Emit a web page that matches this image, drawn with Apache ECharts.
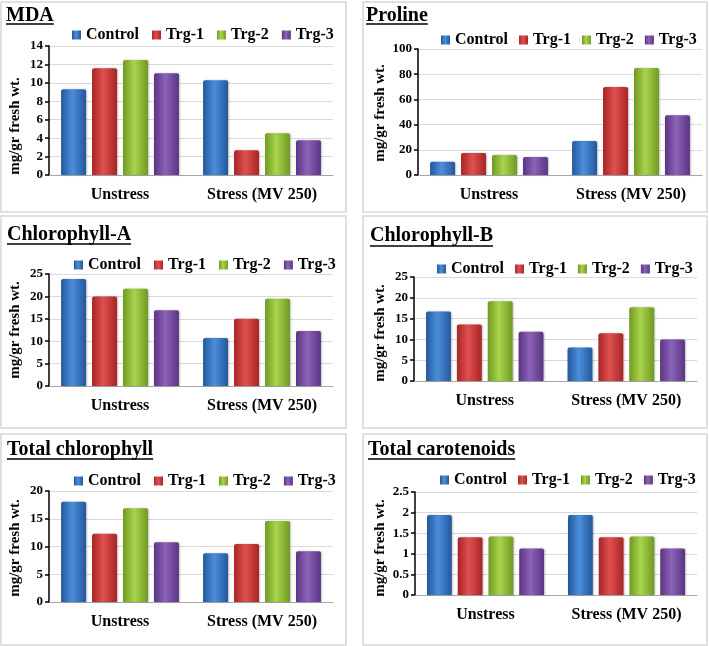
<!DOCTYPE html>
<html><head><meta charset="utf-8">
<script src="https://cdn.jsdelivr.net/npm/echarts@6/dist/echarts.min.js"></script>
<style>html,body{margin:0;padding:0;background:#fff}#c{width:709px;height:646px}</style>
</head><body><div id="c"></div>
<script>
var categories = ['Unstress', 'Stress (MV 250)'];
var groups = ['Control', 'Trg-1', 'Trg-2', 'Trg-3'];
var titles = ['MDA', 'Proline', 'Chlorophyll-A', 'Chlorophyll-B', 'Total chlorophyll', 'Total carotenoids'];
var yName = 'mg/gr fresh wt.';
// values per panel: [Unstress, Stress] for each group
var mdaControl = [9.3, 10.27], mdaTrg1 = [11.58, 2.68], mdaTrg2 = [12.48, 4.52], mdaTrg3 = [11.03, 3.76];
var proControl = [10.6, 27.0], proTrg1 = [17.5, 69.8], proTrg2 = [15.9, 84.9], proTrg3 = [14.3, 47.5];
var chaControl = [23.9, 10.7], chaTrg1 = [20.0, 15.0], chaTrg2 = [21.7, 19.5], chaTrg3 = [16.9, 12.3];
var chbControl = [16.7, 8.06], chbTrg1 = [13.6, 11.5], chbTrg2 = [19.2, 17.7], chbTrg3 = [11.85, 10.0];
var tchControl = [18.08, 8.77], tchTrg1 = [12.3, 10.45], tchTrg2 = [16.9, 14.6], tchTrg3 = [10.75, 9.13];
var carControl = [1.94, 1.94], carTrg1 = [1.40, 1.40], carTrg2 = [1.42, 1.42], carTrg3 = [1.13, 1.13];
var yMax = [14, 100, 25, 25, 20, 2.5];
var yInterval = [2, 20, 5, 5, 5, 0.5];

var panelData = [
  [mdaControl, mdaTrg1, mdaTrg2, mdaTrg3],
  [proControl, proTrg1, proTrg2, proTrg3],
  [chaControl, chaTrg1, chaTrg2, chaTrg3],
  [chbControl, chbTrg1, chbTrg2, chbTrg3],
  [tchControl, tchTrg1, tchTrg2, tchTrg3],
  [carControl, carTrg1, carTrg2, carTrg3]
];

var FONT = 'Liberation Serif';
var grids = [
  {left: 49, top: 46, width: 284, height: 129},
  {left: 418, top: 49, width: 284, height: 126},
  {left: 49, top: 274, width: 284, height: 112},
  {left: 414, top: 277, width: 283, height: 104},
  {left: 49, top: 491, width: 284, height: 111},
  {left: 415, top: 492, width: 282, height: 103}
];
var borders = [
  [1, 2, 345, 210], [363, 2, 344, 210],
  [1, 216, 345, 212], [363, 216, 344, 212],
  [1, 434, 345, 211], [363, 434, 344, 211]
];
var titlePos = [[6, 16, 24], [366, 16, 24], [7, 235, 244], [370, 236, 246], [7, 450, 459], [368, 450, 459]];
var legendPos = [[72, 27, 13], [441, 32, 11], [74, 257, 13], [437, 261, 11], [74, 473, 13], [440, 472, 11]];
var yNamePos = [[15, 126], [380, 113], [15, 330], [380, 333], [15, 548], [380, 548]];

var baseColors = [
  ['#24579b', '#4a8fdc', '#24579b'],
  ['#a82526', '#e0504f', '#a82526'],
  ['#6f9a22', '#a9d44c', '#6f9a22'],
  ['#5a3583', '#8d62b8', '#5a3583']
];
function grad(c) {
  return new echarts.graphic.LinearGradient(0, 0, 1, 0, [
    {offset: 0, color: c[0]}, {offset: 0.45, color: c[1]}, {offset: 1, color: c[2]}
  ]);
}

var ctx = document.createElement('canvas').getContext('2d');
ctx.font = 'bold 20px "' + FONT + '"';

var option = {
  animation: false,
  backgroundColor: '#ffffff',
  grid: grids,
  xAxis: [], yAxis: [], series: [], legend: [], graphic: []
};

for (var p = 0; p < 6; p++) {
  option.xAxis.push({
    type: 'category', gridIndex: p, data: categories,
    axisLine: {lineStyle: {color: '#a6a6a6', width: 1}},
    axisTick: {show: false},
    axisLabel: {interval: 0, fontFamily: FONT, fontWeight: 'bold', fontSize: 16, color: '#000', margin: 12}
  });
  option.yAxis.push({
    type: 'value', gridIndex: p, min: 0, max: yMax[p], interval: yInterval[p],
    axisLine: {show: true, lineStyle: {color: '#000', width: 1.5}},
    axisTick: {show: true, length: 4, lineStyle: {color: '#000', width: 1.5}},
    splitLine: {lineStyle: {color: '#d9d9d9', width: 1}},
    axisLabel: {fontFamily: FONT, fontWeight: 'bold', fontSize: 13, color: '#000', margin: 6}
  });
  for (var s = 0; s < 4; s++) {
    option.series.push({
      type: 'bar', name: groups[s], xAxisIndex: p, yAxisIndex: p,
      data: panelData[p][s],
      barGap: '24%', barCategoryGap: '17%',
      itemStyle: {color: grad(baseColors[s]), borderRadius: [2, 2, 0, 0],
        shadowColor: 'rgba(0,0,0,0.25)', shadowBlur: 2, shadowOffsetX: 1, shadowOffsetY: 0}
    });
  }
  option.legend.push({
    data: groups, left: legendPos[p][0], top: legendPos[p][1], width: 400,
    orient: 'horizontal', padding: 0,
    icon: 'rect', itemWidth: 9, itemHeight: 9, itemGap: legendPos[p][2],
    textStyle: {fontFamily: FONT, fontWeight: 'bold', fontSize: 16, color: '#000'}
  });
  var b = borders[p];
  option.graphic.push({
    type: 'rect', shape: {x: b[0], y: b[1], width: b[2], height: b[3]},
    style: {fill: 'none', stroke: '#d6d6d6', lineWidth: 1.5}, silent: true
  });
  var tp = titlePos[p];
  var tw = ctx.measureText(titles[p]).width;
  option.graphic.push({
    type: 'text', x: tp[0], y: tp[1],
    style: {text: titles[p], font: 'bold 20px "' + FONT + '"', fill: '#000', textVerticalAlign: 'middle', textAlign: 'left'}
  });
  option.graphic.push({
    type: 'line', shape: {x1: tp[0], y1: tp[2], x2: tp[0] + tw, y2: tp[2]},
    style: {stroke: '#000', lineWidth: 1.6}
  });
  var yn = yNamePos[p];
  option.graphic.push({
    type: 'text', x: yn[0], y: yn[1], rotation: Math.PI / 2,
    style: {text: yName, font: 'bold 15px "' + FONT + '"', fill: '#000', textVerticalAlign: 'middle', textAlign: 'center'}
  });
}

var chart = echarts.init(document.getElementById('c'));
chart.setOption(option);
</script>
</body></html>
